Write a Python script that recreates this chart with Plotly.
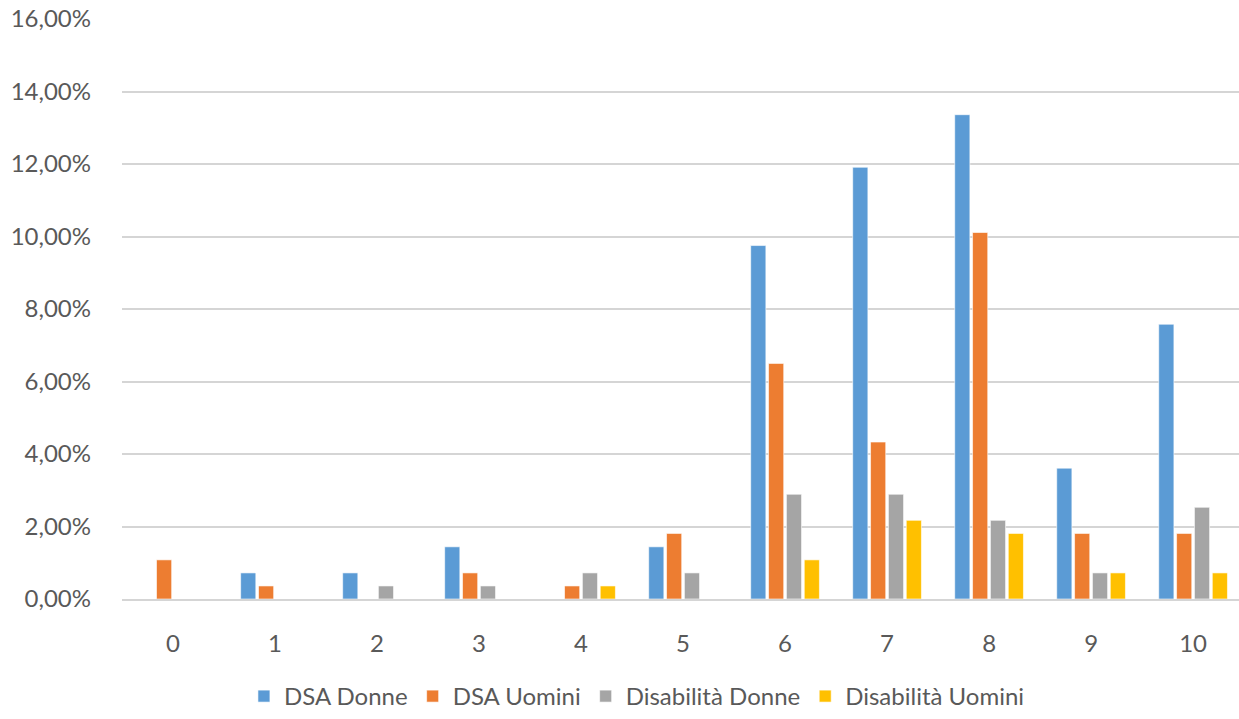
import plotly.graph_objects as go

# Punteggi (0-10) e percentuali per gruppo
categories = ["0", "1", "2", "3", "4", "5", "6", "7", "8", "9", "10"]
dsa_donne = [0, 0.72, 0.72, 1.44, 0, 1.44, 9.75, 11.91, 13.36, 3.61, 7.58]
dsa_uomini = [1.08, 0.36, 0, 0.72, 0.36, 1.81, 6.50, 4.33, 10.11, 1.81, 1.81]
dis_donne = [0, 0, 0.36, 0.36, 0.72, 0.72, 2.89, 2.89, 2.17, 0.72, 2.53]
dis_uomini = [0, 0, 0, 0, 0.36, 0, 1.08, 2.17, 1.81, 0.72, 0.72]

series = [
    ("DSA Donne", dsa_donne, "#5B9BD5"),
    ("DSA Uomini", dsa_uomini, "#ED7D31"),
    ("Disabilità Donne", dis_donne, "#A5A5A5"),
    ("Disabilità Uomini", dis_uomini, "#FFC000"),
]

FONT = "Lato"
TEXT = "#595959"
GRID = "#D5D5D5"

fig = go.Figure()
for name, vals, color in series:
    fig.add_trace(go.Bar(
        x=categories,
        y=[v / 100 for v in vals],
        name=name,
        marker=dict(color=color, line=dict(color="rgba(255,255,255,0.6)", width=1)),
    ))

fig.update_layout(
    width=1239,
    height=719,
    margin=dict(l=122, r=0, t=19, b=119),
    paper_bgcolor="white",
    plot_bgcolor="white",
    barmode="group",
    bargap=0.30,
    bargroupgap=0.15,
    separators=",.",
    font=dict(family=FONT, size=24, color=TEXT),
    showlegend=True,
    legend=dict(
        orientation="h",
        x=0.461,
        xanchor="center",
        y=-0.169,
        yanchor="middle",
        font=dict(family=FONT, size=24, color=TEXT),
        itemwidth=30,
        traceorder="normal",
    ),
    xaxis=dict(
        type="category",
        range=[-0.5, 10.45],
        showgrid=False,
        showline=True,
        linecolor=GRID,
        linewidth=2,
        ticks="",
        ticklabelstandoff=22,
        tickfont=dict(family=FONT, size=24, color=TEXT),
    ),
    yaxis=dict(
        range=[0, 0.16],
        dtick=0.02,
        tickformat=".2%",
        showgrid=True,
        gridcolor=GRID,
        gridwidth=2,
        zeroline=False,
        showline=False,
        ticks="",
        ticklabelstandoff=30,
        tickfont=dict(family=FONT, size=24, color=TEXT),
    ),
)

fig.write_html("out.html")
